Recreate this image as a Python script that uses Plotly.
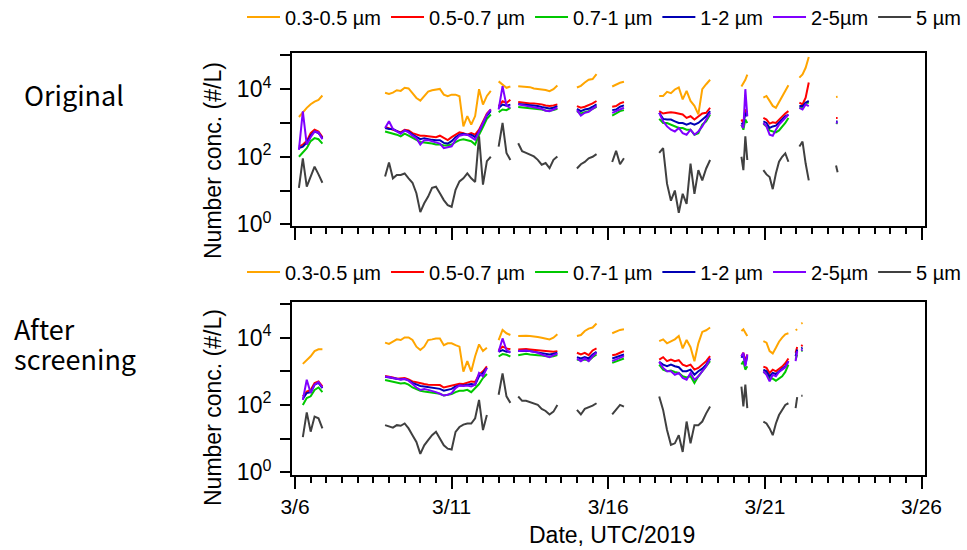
import pandas as pd
import plotly.graph_objects as go

# ---------------- data ----------------
SIZE_LABELS = ["0.3-0.5 µm", "0.5-0.7 µm", "0.7-1 µm", "1-2 µm", "2-5µm", "5 µm"]
MAJOR_DATES = ["2019-03-06", "2019-03-11", "2019-03-16", "2019-03-21", "2019-03-26"]
MAJOR_LABELS = ["3/6", "3/11", "3/16", "3/21", "3/26"]
Y_LABELED_TICKS = [1, 100, 10000]
Y_LABELS = ["10<sup>0</sup>", "10<sup>2</sup>", "10<sup>4</sup>"]
Y_UNLABELED_TICKS = [10, 1000, 100000]

# measurement segments: (start time, sampling interval, number of samples)
SEG_ORIGINAL = [
    ("2019-03-06 03:00", "3h", 7),
    ("2019-03-08 21:00", "3h", 28),
    ("2019-03-12 12:00", "3h", 4),
    ("2019-03-13 03:00", "3h", 11),
    ("2019-03-15 00:00", "3h", 6),
    ("2019-03-16 03:00", "3h", 4),
    ("2019-03-17 15:00", "3h", 14),
    ("2019-03-20 06:00", "90min", 4),
    ("2019-03-20 22:48", "144min", 9),
    ("2019-03-22 02:24", "144min", 4),
    ("2019-03-23 06:29", "72min", 2),
]
SEG_SCREENED = [
    ("2019-03-06 03:00", "3h", 7),
    ("2019-03-08 21:00", "3h", 28),
    ("2019-03-12 12:00", "3h", 4),
    ("2019-03-13 03:00", "3h", 11),
    ("2019-03-15 00:00", "3h", 6),
    ("2019-03-16 03:00", "3h", 4),
    ("2019-03-17 15:00", "3h", 14),
    ("2019-03-20 06:00", "90min", 4),
    ("2019-03-20 22:48", "144min", 9),
    ("2019-03-21 23:31", "72min", 2),
    ("2019-03-22 03:50", "1h", 2),
]

# ----- Original (#/L) -----
orig_03_05 = [
    [1500, 2100, 2800, 3600, 4300, 4800, 6500],
    [7800, 7200, 7900, 9300, 8900, 11000, 10500, 7800, 5500, 4600, 6200, 8500, 9300, 9800, 10200, 6900,
     6200, 6900, 6900, 6200, 790, 1600, 890, 1600, 10000, 3500, 6300, 8900],
    [17000, 14000, 11000, 12000],
    [12300, 12000, 11500, 11500, 10500, 10200, 10000, 9500, 8700, 10000, 12900],
    [11200, 12600, 15800, 19000, 20000, 28000],
    [12000, 14000, 15500, 16500],
    [6300, 6300, 8300, 7600, 9800, 11200, 5000, 8900, 4500, 3200, 1800, 10000, 14000, 19000],
    [12000, 15000, 19000, 27000],
    [5600, 6300, 4500, 3200, 2800, 4200, 6300, 8900, 13000],
    [22000, 27500, 43000, 90000],
    [5900, 6000],
]
orig_05_07 = [
    [200, 230, 290, 500, 630, 560, 380],
    [760, 690, 660, 600, 525, 630, 600, 500, 450, 420, 420, 400, 400, 380, 420, 355, 310, 380, 450, 525,
     500, 450, 500, 450, 630, 1120, 1900, 2500],
    [3160, 4370, 3900, 4900],
    [4170, 3980, 3980, 3800, 3800, 3720, 3550, 3310, 3160, 3310, 3550],
    [3160, 2820, 3020, 3310, 3800, 4470],
    [3020, 3160, 3800, 4170],
    [2240, 1900, 2000, 2090, 2000, 1900, 1780, 1410, 1580, 1260, 1580, 1900, 2000, 2820],
    [1260, 1000, 2510, 2000],
    [1410, 1260, 955, 1050, 1000, 1260, 1580, 1900, 2240],
    [3980, 3550, 5620, 15800],
    [1400, 1400],
]
orig_07_1 = [
    [100, 130, 180, 290, 355, 330, 245],
    [560, 525, 500, 450, 400, 480, 420, 355, 316, 275, 270, 257, 245, 230, 230, 214, 214, 230, 270, 310,
     330, 310, 288, 230, 450, 760, 1320, 1780],
    [2090, 2500, 2400, 2800],
    [2950, 2880, 2820, 2750, 2690, 2630, 2510, 2340, 2290, 2400, 2630],
    [2240, 1900, 2090, 2240, 2630, 3020],
    [1660, 1900, 2240, 2400],
    [1320, 1000, 1000, 890, 790, 710, 710, 630, 630, 450, 500, 890, 1120, 1780],
    [890, 630, 1260, 1000],
    [950, 790, 600, 560, 525, 600, 760, 1000, 1410],
    [2820, 2820, 3980, 3980],
    [1000, 950],
]
orig_1_2 = [
    [180, 200, 260, 420, 560, 500, 355],
    [710, 660, 660, 560, 500, 600, 560, 450, 380, 330, 355, 330, 316, 310, 310, 257, 245, 288, 380, 450,
     480, 450, 450, 380, 560, 955, 1660, 2240],
    [2800, 3500, 3240, 3500],
    [3630, 3550, 3470, 3310, 3310, 3160, 2950, 2750, 2690, 2820, 3160],
    [2630, 2240, 2510, 2630, 3020, 3550],
    [2400, 2510, 3020, 3310],
    [2000, 1320, 1260, 1260, 1120, 1000, 1000, 890, 1000, 890, 1000, 1260, 1580, 2240],
    [1000, 890, 2000, 1580],
    [1120, 1000, 710, 790, 830, 1050, 1320, 1580, 1780],
    [3160, 3160, 3980, 4470],
    [1100, 1100],
]
orig_2_5 = [
    [160, 2200, 230, 380, 560, 525, 330],
    [710, 1120, 660, 560, 480, 600, 525, 420, 355, 230, 310, 310, 288, 257, 245, 180, 195, 204, 316, 420,
     450, 450, 380, 316, 560, 1000, 1780, 2510],
    [2500, 12300, 3240, 2800],
    [3550, 3390, 3310, 3160, 3020, 2880, 2630, 2290, 2240, 2510, 2820],
    [2400, 1660, 2000, 2140, 2630, 3160],
    [2000, 2240, 2630, 2820],
    [2000, 1120, 790, 630, 560, 710, 500, 450, 630, 450, 560, 790, 1260, 2000],
    [890, 710, 10000, 1580],
    [1000, 790, 450, 420, 630, 890, 1120, 1410, 1780],
    [2820, 2510, 3550, 3160],
    [1050, 1000],
]
orig_5 = [
    [12, 90, 13, 26, 51, 30, 17],
    [26, 68, 23, 29, 29, 32, 23, 17, 8.3, 2.3, 4.2, 6.6, 12, 13, 8.3, 5.2, 3.7, 3.3, 10.5, 18.6,
     23, 32, 23, 18, 400, 15, 74, 100],
    [200, 1000, 130, 80],
    [250, 145, 130, 115, 102, 81, 58, 65, 46, 81, 102],
    [45, 60, 70, 90, 100, 120],
    [70, 150, 60, 90],
    [130, 180, 16, 5, 10, 2.2, 8, 4, 63, 8, 40, 20, 45, 80],
    [100, 40, 400, 80],
    [40, 30, 25, 11, 32, 71, 100, 126, 71],
    [200, 280, 63, 20],
    [55, 35],
]

# ----- After screening (#/L) -----
scr_03_05 = [
    [None, 1660, 2090, 2800, 4000, 4500, 4500],
    [7100, 6500, 7600, 8900, 8500, 10200, 10200, 8500, 5400, 4300, 5400, 8500, 8900, 9500, 9500, 6000,
     6800, 6800, 6000, 5400, 980, 2000, 980, 2800, 6300, 4000, 5000, None],
    [8500, 17000, 13500, 12000],
    [11200, 11500, 11500, 11200, 11000, 10500, 10000, 9300, 8900, 10000, 12600],
    [11200, 12000, 15800, 18600, 20000, 26300],
    [13500, 15100, 17000, 17800],
    [7900, 8900, 6800, 7600, 8900, 11200, 4800, 8500, 5200, 2000, 6800, 14800, 16600, 20000],
    [15800, 17800, 14100, 11200],
    [7900, 7100, 4000, 3400, 5000, 7600, 10000, 12600, 13500],
    [16600, 17800],
    [26300, 27500],
]
scr_05_07 = [
    [None, 180, 250, 280, 450, 500, 355],
    [720, 690, 660, 600, 600, 630, 575, 500, 470, 435, 420, 400, 390, 390, 390, 330, 355, 380, 400, 425,
     420, 455, 500, 480, 790, 1000, 1410, None],
    [4300, 5400, 4800, 4500],
    [4470, 4570, 4570, 4470, 4370, 4270, 4170, 3980, 3800, 3800, 3980],
    [3550, 3160, 3550, 3020, 4170, 4790],
    [3020, 3160, 3550, 3980],
    [2240, 2630, 2000, 2240, 2000, 2140, 1580, 1410, 1580, 1120, 1260, 1580, 2000, 2820],
    [2820, 3550, 2000, 3160],
    [1380, 1260, 890, 1120, 1000, 1150, 1380, 1740, 2400],
    [3550, 5250],
    [5620, 6030],
]
scr_07_1 = [
    [None, 100, 160, 180, 280, 330, 240],
    [550, 525, 500, 457, 437, 447, 400, 330, 295, 263, 251, 240, 234, 229, 214, 190, 200, 209, 240, 263,
     263, 282, 240, 316, 417, 630, 830, None],
    [2750, 3240, 3090, 2750],
    [3020, 3160, 3310, 3160, 3160, 3020, 2950, 2820, 2690, 2820, 3020],
    [2240, 2090, 2240, 2090, 2630, 3160],
    [1780, 2000, 2240, 2400],
    [1580, 1120, 1000, 1050, 955, 890, 710, 660, 710, 450, 710, 1000, 1410, 2000],
    [1580, 2000, 1120, 1410],
    [955, 830, 630, 600, 525, 600, 710, 955, 1580],
    [2240, 3160],
    [3980, 4170],
]
scr_1_2 = [
    [None, 150, 225, 240, 400, 450, 316],
    [690, 660, 630, 575, 575, 590, 540, 450, 400, 365, 355, 340, 330, 316, 300, 265, 275, 300, 355, 380,
     380, 400, 420, 400, 710, 890, 1260, None],
    [3800, 4300, 3800, 3800],
    [3980, 4070, 4070, 3980, 3800, 3720, 3550, 3310, 3160, 3310, 3550],
    [2630, 2400, 2630, 2400, 3160, 3800],
    [2400, 2630, 2820, 3160],
    [1900, 1580, 1410, 1580, 1410, 1320, 1000, 1000, 1120, 790, 1000, 1200, 1580, 2400],
    [2510, 3160, 1580, 2820],
    [1120, 1000, 710, 890, 830, 1000, 1200, 1410, 2000],
    [2820, 4470],
    [4790, 5010],
]
scr_2_5 = [
    [None, 140, 560, 225, 400, 480, 330],
    [690, 680, 630, 590, 575, 600, 525, 420, 330, 280, 295, 280, 265, 240, 215, 190, 200, 225, 316, 380,
     365, 380, 355, 400, 890, 710, 1260, None],
    [3800, 9500, 4300, 3550],
    [3980, 4170, 4170, 3980, 3800, 3550, 3160, 2820, 2630, 3020, 3310],
    [2400, 2000, 2400, 2000, 2820, 3550],
    [2000, 2240, 2510, 2820],
    [1900, 1260, 1000, 1000, 790, 890, 630, 560, 890, 560, 710, 1000, 1410, 2400],
    [2820, 3550, 1410, 3160],
    [1000, 790, 500, 790, 710, 955, 1120, 1320, 2000],
    [2000, 3980],
    [4170, 4470],
]
scr_5 = [
    [None, 11, 60, 16, 45, 40, 20],
    [25, 23, 21, 25, 24, 28, 20, 12.6, 7.9, 3.5, 6.3, 8.9, 12.6, 15.8, 10, 6.3, 5.0, 4.7, 15.8, 22,
     26, 28, 28, 40, 141, 17.8, 50, None],
    [200, 870, 180, 115],
    [178, 132, 132, 120, 112, 100, 76, 66, 52, 63, 100],
    [71, 52, 76, 83, 95, 112],
    [52, 71, 100, 89],
    [178, 71, 18, 6.5, 7.2, 12.6, 4.0, 32, 7.2, 25, 25, 32, 56, 89],
    [350, 90, 400, 80],
    [32, 28, 20, 12.6, 28, 50, 71, 100, 112],
    [80, 170],
    [186, 186],
]

ORIGINAL = [orig_03_05, orig_05_07, orig_07_1, orig_1_2, orig_2_5, orig_5]
SCREENED = [scr_03_05, scr_05_07, scr_07_1, scr_1_2, scr_2_5, scr_5]

# ---------------- styles ----------------
COLORS = ["#FFA500", "#FF0000", "#00C800", "#0000B4", "#8000FF", "#404040"]
FONT = "Liberation Sans, Arial, sans-serif"
JP_FONT = "Noto Sans CJK JP, sans-serif"
W, H = 967, 550


def build(segments, values):
    xs, ys = [], []
    for (start, freq, n), vals in zip(segments, values):
        assert len(vals) == n, (start, len(vals), n)
        times = pd.date_range(start, periods=n, freq=freq).strftime("%Y-%m-%d %H:%M:%S")
        xs.extend(times)
        ys.extend(vals)
        xs.append(None)
        ys.append(None)
    return xs, ys


fig = go.Figure()
for segs, series, xa, ya, leg in [
    (SEG_ORIGINAL, ORIGINAL, "x", "y", "legend"),
    (SEG_SCREENED, SCREENED, "x2", "y2", "legend2"),
]:
    for label, color, vals in zip(SIZE_LABELS, COLORS, series):
        x, y = build(segs, vals)
        fig.add_trace(go.Scatter(
            x=x, y=y, mode="lines", name=label, xaxis=xa, yaxis=ya, legend=leg,
            line=dict(color=color, width=2), connectgaps=False, hoverinfo="skip",
        ))


def px_x(p):
    return p / W


def px_y(p):
    return 1 - p / H


x_common = dict(
    type="date",
    range=["2019-03-05 21:42", "2019-03-26 02:38"],
    domain=[px_x(292), px_x(925)],
    automargin=False,
    showline=True, linecolor="black", linewidth=2, mirror=True,
    ticks="outside", ticklen=12, tickwidth=2, tickcolor="black",
    tickmode="array", tickvals=MAJOR_DATES, ticktext=MAJOR_LABELS,
    minor=dict(dtick=43200000, tick0="2019-03-06", ticks="outside", ticklen=6,
               tickwidth=2, tickcolor="black", showgrid=False),
    showgrid=False, zeroline=False,
    tickfont=dict(family=FONT, size=21, color="black"),
)
y_common = dict(
    type="log",
    automargin=False,
    showline=True, linecolor="black", linewidth=2, mirror=True,
    ticks="outside", ticklen=10, tickwidth=2, tickcolor="black",
    tickmode="array", tickvals=Y_LABELED_TICKS, ticktext=Y_LABELS,
    minor=dict(tickmode="array", tickvals=Y_UNLABELED_TICKS, ticks="outside", ticklen=10,
               tickwidth=2, tickcolor="black", showgrid=False),
    showgrid=False, zeroline=False,
    tickfont=dict(family=FONT, size=23, color="black"),
    ticklabelstandoff=4,
)

legend_common = dict(
    orientation="h", x=px_x(242), xanchor="left", yanchor="middle",
    font=dict(family=FONT, size=20, color="black"), bgcolor="rgba(0,0,0,0)",
    traceorder="normal", itemwidth=33,
)

fig.update_layout(
    width=W, height=H,
    autosize=False,
    margin=dict(l=0, r=0, t=0, b=0, pad=0, autoexpand=False),
    paper_bgcolor="white", plot_bgcolor="white",
    font=dict(family=FONT, color="black"),
    showlegend=True,
    xaxis=dict(x_common, anchor="y", showticklabels=False),
    yaxis=dict(y_common, anchor="x", domain=[px_y(226), px_y(52.7)], range=[-0.05, 5.08]),
    xaxis2=dict(x_common, anchor="y2", matches="x", ticklabelstandoff=0),
    yaxis2=dict(y_common, anchor="x2", domain=[px_y(474.5), px_y(301.7)], range=[-0.07, 5.07]),
    legend=dict(legend_common, y=px_y(17)),
    legend2=dict(legend_common, y=px_y(272)),
)

ann = [
    dict(text="Number conc. (#/L)", x=px_x(213), y=px_y(161), textangle=-90,
         font=dict(family=FONT, size=23)),
    dict(text="Number conc. (#/L)", x=px_x(213), y=px_y(408), textangle=-90,
         font=dict(family=FONT, size=23)),
    dict(text="Date, UTC/2019", x=px_x(612), y=px_y(535), font=dict(family=FONT, size=23)),
    dict(text="Original", x=px_x(74), y=px_y(94), font=dict(family=JP_FONT, size=27)),
    dict(text="After", x=px_x(12), y=px_y(328), xanchor="left", font=dict(family=JP_FONT, size=27)),
    dict(text="screening", x=px_x(12), y=px_y(358), xanchor="left", font=dict(family=JP_FONT, size=27)),
]
for a in ann:
    a.setdefault("xanchor", "center")
    fig.add_annotation(xref="paper", yref="paper", showarrow=False, yanchor="middle",
                       **a)

# page without the browser's default body margin, so the 967x550 figure fills the window
fig.write_html(
    "out.html",
    config={"displayModeBar": False, "responsive": False},
    post_script="document.body.style.margin='0px';",
)
